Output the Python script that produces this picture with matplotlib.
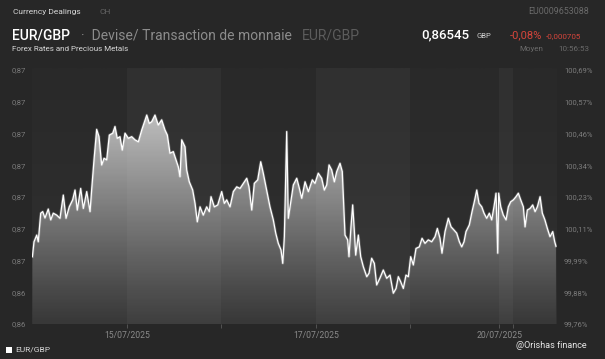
import numpy as np
import matplotlib
matplotlib.use("Agg")
import matplotlib.pyplot as plt
from matplotlib.patches import Polygon, Rectangle

plt.rcParams['font.family'] = ['Roboto', 'DejaVu Sans']

# ---- data (time in trading days since 14/07/2025 00:00, price EUR/GBP) ----
t = [0.000, 0.017, 0.046, 0.062, 0.088, 0.109, 0.133, 0.168, 0.194, 0.221,
     0.257, 0.292, 0.327, 0.356, 0.390, 0.426, 0.451, 0.475, 0.511, 0.539,
     0.575, 0.610, 0.628, 0.652, 0.680, 0.705, 0.733, 0.758, 0.786, 0.814,
     0.850, 0.874, 0.898, 0.927, 0.951, 0.980, 1.015, 1.051, 1.086, 1.121,
     1.157, 1.210, 1.237, 1.262, 1.297, 1.332, 1.368, 1.403, 1.428, 1.456,
     1.491, 1.520, 1.544, 1.562, 1.580, 1.615, 1.633, 1.660, 1.696, 1.721,
     1.745, 1.774, 1.808, 1.844, 1.872, 1.890, 1.925, 1.961, 2.003, 2.031,
     2.056, 2.091, 2.126, 2.162, 2.197, 2.232, 2.268, 2.292, 2.321, 2.348,
     2.384, 2.416, 2.443, 2.479, 2.514, 2.549, 2.575, 2.602, 2.631, 2.649,
     2.666, 2.691, 2.708, 2.737, 2.761, 2.797, 2.821, 2.850, 2.885, 2.920,
     2.962, 2.990, 3.025, 3.061, 3.089, 3.114, 3.139, 3.167, 3.195, 3.220,
     3.255, 3.279, 3.308, 3.336, 3.350, 3.371, 3.389, 3.406, 3.421, 3.449,
     3.474, 3.502, 3.538, 3.562, 3.590, 3.618, 3.643, 3.678, 3.713, 3.749,
     3.784, 3.819, 3.848, 3.872, 3.897, 3.925, 3.953, 3.978, 4.003, 4.031,
     4.059, 4.094, 4.123, 4.154, 4.189, 4.225, 4.260, 4.285, 4.313, 4.334,
     4.366, 4.401, 4.430, 4.461, 4.490, 4.518, 4.543, 4.567, 4.588, 4.623,
     4.652, 4.676, 4.702, 4.726, 4.755, 4.779, 4.807, 4.835, 4.860, 4.884,
     4.906, 4.924, 4.934, 4.956, 4.983, 5.012, 5.036, 5.061, 5.089, 5.117,
     5.142, 5.167, 5.195, 5.213, 5.237, 5.266, 5.294, 5.319, 5.343, 5.372,
     5.396, 5.423, 5.449, 5.477, 5.506, 5.527, 5.540]
price = [0.86512, 0.86559, 0.86580, 0.86559, 0.86649, 0.86654, 0.86634, 0.86662, 0.86628, 0.86649,
         0.86643, 0.86633, 0.86706, 0.86633, 0.86669, 0.86691, 0.86722, 0.86659, 0.86727, 0.86664,
         0.86717, 0.86654, 0.86727, 0.86817, 0.86913, 0.86890, 0.86801, 0.86822, 0.86817, 0.86895,
         0.86901, 0.86922, 0.86885, 0.86890, 0.86848, 0.86901, 0.86885, 0.86890, 0.86880, 0.86874,
         0.86911, 0.86958, 0.86932, 0.86937, 0.86958, 0.86927, 0.86943, 0.86911, 0.86895, 0.86838,
         0.86843, 0.86817, 0.86795, 0.86764, 0.86880, 0.86858, 0.86785, 0.86748, 0.86722, 0.86680,
         0.86622, 0.86669, 0.86643, 0.86669, 0.86654, 0.86701, 0.86669, 0.86675, 0.86717, 0.86680,
         0.86691, 0.86669, 0.86717, 0.86732, 0.86727, 0.86743, 0.86759, 0.86732, 0.86659, 0.86743,
         0.86754, 0.86811, 0.86775, 0.86722, 0.86669, 0.86628, 0.86586, 0.86554, 0.86533, 0.86491,
         0.86575, 0.86906, 0.86633, 0.86691, 0.86738, 0.86759, 0.86732, 0.86696, 0.86748, 0.86717,
         0.86754, 0.86743, 0.86775, 0.86759, 0.86722, 0.86738, 0.86801, 0.86785, 0.86748, 0.86780,
         0.86806, 0.86780, 0.86580, 0.86565, 0.86512, 0.86606, 0.86675, 0.86596, 0.86517, 0.86580,
         0.86512, 0.86480, 0.86449, 0.86460, 0.86507, 0.86491, 0.86423, 0.86445, 0.86470, 0.86444,
         0.86454, 0.86397, 0.86412, 0.86449, 0.86433, 0.86412, 0.86454, 0.86449, 0.86512, 0.86486,
         0.86538, 0.86543, 0.86570, 0.86554, 0.86565, 0.86559, 0.86575, 0.86601, 0.86570, 0.86523,
         0.86591, 0.86633, 0.86606, 0.86596, 0.86586, 0.86559, 0.86543, 0.86559, 0.86591, 0.86612,
         0.86654, 0.86685, 0.86722, 0.86680, 0.86669, 0.86649, 0.86633, 0.86649, 0.86628, 0.86669,
         0.86712, 0.86523, 0.86712, 0.86669, 0.86643, 0.86628, 0.86669, 0.86685, 0.86691, 0.86701,
         0.86712, 0.86691, 0.86669, 0.86606, 0.86659, 0.86664, 0.86675, 0.86654, 0.86669, 0.86701,
         0.86649, 0.86628, 0.86601, 0.86575, 0.86591, 0.86559, 0.86545]

y_ticks = [0.863, 0.864, 0.865, 0.866, 0.867, 0.868, 0.869, 0.870, 0.871]
left_labels = ['0,86', '0,86', '0,87', '0,87', '0,87', '0,87', '0,87', '0,87', '0,87']
right_labels = ['99,76%', '99,88%', '99,99%', '100,11%', '100,23%', '100,34%',
                '100,46%', '100,57%', '100,69%']
x_ticks = [1.0, 2.0, 3.0, 4.0, 4.94, 5.09]
x_labels = ['15/07/2025', '', '17/07/2025', '', '20/07/2025', '']
day_bands = [(1.0, 2.0), (3.0, 4.0), (4.94, 5.09)]

# ---- figure ----
W, H = 605, 359
BG = '#272727'
fig = plt.figure(figsize=(W / 100, H / 100), dpi=100, facecolor=BG)

def px(x, y):
    return x / W, 1 - y / H

ax_l, ax_r, ax_t, ax_b = 32.4, 557, 68, 324
ax = fig.add_axes([ax_l / W, 1 - ax_b / H, (ax_r - ax_l) / W, (ax_b - ax_t) / H])
ax.set_facecolor(BG)
XMAX = 5.551
ax.set_xlim(0, XMAX)
ymin, ymax = 0.863, 0.871 + 2 / 31.75 * 0.001
ax.set_ylim(ymin, ymax)

# background vertical gradient (lighter towards bottom)
bgv = np.linspace(0, 1, 256).reshape(-1, 1)
bg_rgb = np.zeros((256, 1, 3))
top_c, bot_c = np.array([0x29, 0x29, 0x29]) / 255, np.array([0x31, 0x31, 0x31]) / 255
bg_rgb[:] = (bot_c * (1 - bgv) + top_c * bgv)[:, None, :].reshape(256, 1, 3)
ax.imshow(bg_rgb, extent=[0, XMAX, ymin, ymax], origin='lower', aspect='auto',
          zorder=0, interpolation='bilinear')

for a0, a1 in day_bands:
    ax.axvspan(a0, a1, color='white', alpha=0.035, lw=0, zorder=0.5)

# gradient fill under line
grad = np.linspace(0, 1, 256).reshape(-1, 1)
rgba = np.zeros((256, 1, 4))
rgba[..., :3] = 1.0
rgba[..., 3] = 0.04 + 0.66 * grad ** 1.1
im = ax.imshow(rgba, extent=[0, XMAX, ymin, 0.8697], origin='lower',
               aspect='auto', zorder=1, interpolation='bilinear')
verts = [(t[0], ymin)] + list(zip(t, price)) + [(t[-1], ymin)]
poly = Polygon(verts, closed=True, transform=ax.transData, facecolor='none', edgecolor='none')
ax.add_patch(poly)
im.set_clip_path(poly)
ax.fill_between(t, np.minimum(price, 0.8697), price, where=np.array(price) > 0.8697,
                color='white', alpha=0.70, lw=0, zorder=1)

ax.plot(t, price, color='white', lw=2.0, alpha=0.2, zorder=2, solid_joinstyle='round')
ax.plot(t, price, color='white', lw=0.9, zorder=3, solid_joinstyle='round')

for s in ax.spines.values():
    s.set_visible(False)

tick_col = '#7c7c7c'
ax.set_yticks(y_ticks)
ax.set_yticklabels(left_labels)
ax.tick_params(axis='y', length=0, pad=5, labelsize=5.5, labelcolor=tick_col)
ax.set_xticks(x_ticks)
ax.set_xticklabels(x_labels)
ax.tick_params(axis='x', length=3, width=0.6, color='#5a5a5a', pad=2,
               labelsize=6.2, labelcolor='#8a8a8a')

ax2 = ax.twinx()
ax2.set_ylim(ymin, ymax)
ax2.set_yticks(y_ticks)
ax2.set_yticklabels(right_labels)
ax2.tick_params(axis='y', length=0, pad=5, labelsize=5.5, labelcolor=tick_col)
for s in ax2.spines.values():
    s.set_visible(False)

# ---- header ----
fig.text(*px(13, 12), 'Currency Dealings', fontsize=6, color='#d8d8d8', va='center')
fig.text(*px(100, 12), 'CH', fontsize=6, color='#666666', va='center')
fig.text(*px(589, 12), 'EU0009653088', fontsize=6.4, color='#6a6a6a', va='center', ha='right')

fig.text(*px(12, 35), 'EUR/GBP', fontsize=10, color='white', va='center', weight='medium')
fig.text(*px(81, 35), '·  Devise/ Transaction de monnaie', fontsize=10, color='#8c8c8c', va='center')
fig.text(*px(302, 35), 'EUR/GBP', fontsize=10, color='#5c5c5c', va='center')
fig.text(*px(421, 35), '0,86545', fontsize=9.5, color='white', va='center', weight='medium')
fig.text(*px(477, 36), 'GBP', fontsize=5.5, color='#d0d0d0', va='center')
fig.text(*px(510, 35), '-0,08%', fontsize=8, color='#d6453b', va='center')
fig.text(*px(546, 36), '-0,000705', fontsize=5.8, color='#d6453b', va='center')

fig.text(*px(12, 49), 'Forex Rates and Precious Metals', fontsize=5.8, color='#d8d8d8', va='center')
fig.text(*px(519, 49), 'Moyen', fontsize=5.8, color='#6a6a6a', va='center')
fig.text(*px(589, 49), '10:56:53', fontsize=5.8, color='#6a6a6a', va='center', ha='right')

# ---- footer ----
fig.patches.append(Rectangle(px(6, 353), 6 / W, 6 / H, transform=fig.transFigure,
                             facecolor='white', edgecolor='none'))
fig.text(*px(15, 350), 'EUR/GBP', fontsize=6, color='#d8d8d8', va='center')
fig.text(*px(587, 346), '@Orishas finance', fontsize=6.5, color='#e8e8e8', va='center', ha='right')

fig.savefig('out.png', dpi=100, facecolor=BG)
